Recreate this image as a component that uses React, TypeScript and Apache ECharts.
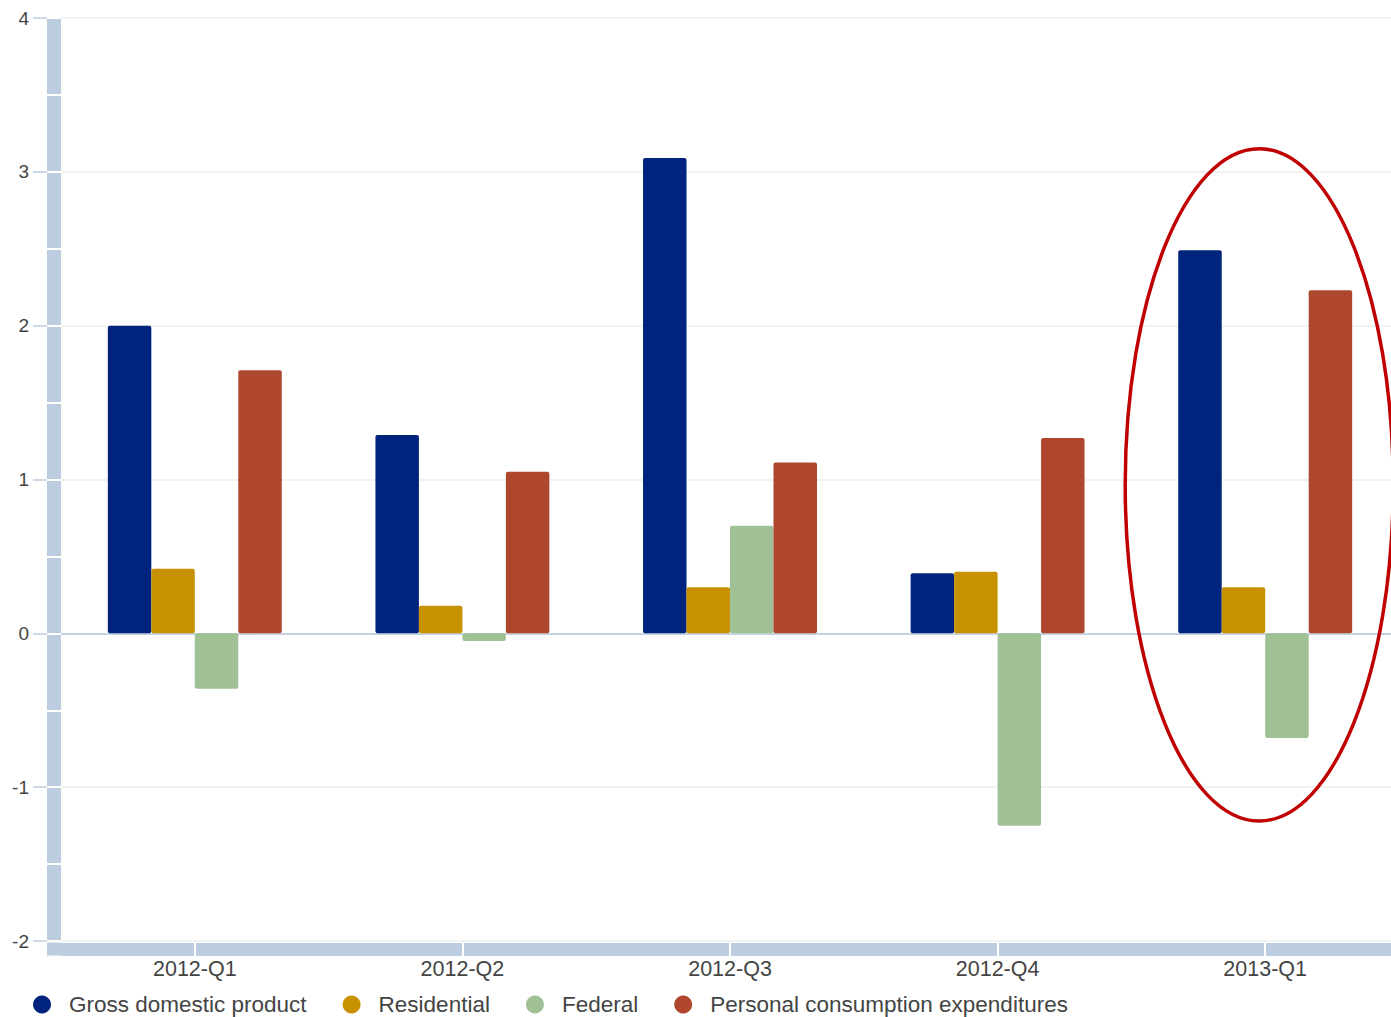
import React, { useEffect, useRef } from "react";
import * as echarts from "echarts";

const categories = ["2012-Q1", "2012-Q2", "2012-Q3", "2012-Q4", "2013-Q1"];
const gdp = [2.0, 1.29, 3.09, 0.39, 2.49];
const residential = [0.42, 0.18, 0.3, 0.4, 0.3];
const federal = [-0.36, -0.05, 0.7, -1.25, -0.68];
const pce = [1.71, 1.05, 1.11, 1.27, 2.23];
const seriesNames = [
  "Gross domestic product",
  "Residential",
  "Federal",
  "Personal consumption expenditures",
];
const colors = ["#00247D", "#C79100", "#A0C196", "#AE472D"];
const yMin = -2;
const yMax = 4;

const AXIS_BLUE = "#BCCDDF";
const FONT = "Liberation Sans, Arial, sans-serif";

export default function App() {
  const ref = useRef<HTMLDivElement>(null);
  useEffect(() => {
    if (!ref.current) return;
    const chart = echarts.init(ref.current, null, { renderer: "svg" });
    const baseX = { type: "category", data: categories, position: "bottom" };
    const baseY = { type: "value", min: yMin, max: yMax, position: "left" };
    const data = [gdp, residential, federal, pce];
    chart.setOption({
      animation: false,
      backgroundColor: "#fff",
      grid: { left: 61, top: 18, right: 21, bottom: 76 },
      xAxis: [
        {
          ...baseX,
          offset: 8,
          z: 1,
          axisLine: {
            show: true,
            onZero: false,
            lineStyle: { color: AXIS_BLUE, width: 13, cap: "butt" },
          },
          axisTick: { show: false },
          axisLabel: { show: false },
          splitLine: { show: false },
        },
        {
          ...baseX,
          offset: 15,
          z: 3,
          axisLine: { show: false, onZero: false },
          axisTick: {
            show: true,
            inside: true,
            alignWithLabel: true,
            length: 14,
            lineStyle: { color: "#ffffff", width: 2 },
          },
          axisLabel: {
            show: true,
            margin: 2,
            color: "#444",
            fontSize: 21.5,
            fontFamily: FONT,
          },
          splitLine: { show: false },
        },
        {
          ...baseX,
          z: 0,
          axisLine: {
            show: true,
            onZero: true,
            onZeroAxisIndex: 0,
            lineStyle: { color: "#B4C8DC", width: 1.5 },
          },
          axisTick: { show: false },
          axisLabel: { show: false },
          splitLine: { show: false },
        },
      ],
      yAxis: [
        {
          ...baseY,
          interval: 1,
          offset: 14,
          z: 0,
          axisLine: { show: false },
          axisTick: { show: true, length: 14, lineStyle: { color: AXIS_BLUE, width: 1.5 } },
          axisLabel: { margin: 18, color: "#444", fontSize: 19, fontFamily: FONT },
          splitLine: { show: true, lineStyle: { color: "#EEEEEE", width: 1.5 } },
        },
        {
          ...baseY,
          interval: 0.5,
          offset: 7,
          z: 1,
          axisLine: { show: true, lineStyle: { color: AXIS_BLUE, width: 14, cap: "butt" } },
          axisTick: { show: false },
          axisLabel: { show: false },
          splitLine: { show: false },
        },
        {
          ...baseY,
          interval: 0.5,
          offset: 14,
          z: 3,
          axisLine: { show: false },
          axisTick: {
            show: true,
            inside: true,
            length: 14,
            lineStyle: { color: "#ffffff", width: 2 },
          },
          axisLabel: { show: false },
          splitLine: { show: false },
        },
      ],
      legend: {
        left: 33,
        top: 993,
        padding: 0,
        itemWidth: 44,
        itemHeight: 18,
        itemGap: 36,
        icon: "circle",
        textStyle: { color: "#444", fontSize: 22.5, fontFamily: FONT },
        data: seriesNames,
      },
      series: seriesNames.map((name, i) => ({
        name,
        type: "bar",
        xAxisIndex: 0,
        yAxisIndex: 0,
        data: data[i],
        barGap: "0%",
        barCategoryGap: "35%",
        itemStyle: { color: colors[i], borderRadius: 2 },
      })),
    });

    const cx = (chart.convertToPixel({ xAxisIndex: 0 }, "2013-Q1") as number) - 6;
    const yTop = chart.convertToPixel({ yAxisIndex: 0 }, 3.15) as number;
    const yBot = chart.convertToPixel({ yAxisIndex: 0 }, -1.22) as number;
    const yBottomGrid = chart.convertToPixel({ yAxisIndex: 0 }, yMin) as number;
    chart.setOption({
      graphic: [
        {
          type: "rect",
          shape: { x: 47, y: yBottomGrid + 1.5, width: 14, height: 13 },
          style: { fill: AXIS_BLUE },
          z: 2,
        },
        {
          type: "ellipse",
          shape: { cx, cy: (yTop + yBot) / 2, rx: 134, ry: (yBot - yTop) / 2 },
          style: { fill: "none", stroke: "#C00000", lineWidth: 3.5 },
          z: 10,
        },
      ],
    });
    return () => chart.dispose();
  }, []);
  return (
    <div
      style={{
        position: "fixed",
        left: 0,
        top: 0,
        width: 1391,
        height: 1017,
        overflow: "hidden",
        background: "#fff",
      }}
    >
      <div ref={ref} style={{ width: 1420, height: 1017 }} />
    </div>
  );
}
